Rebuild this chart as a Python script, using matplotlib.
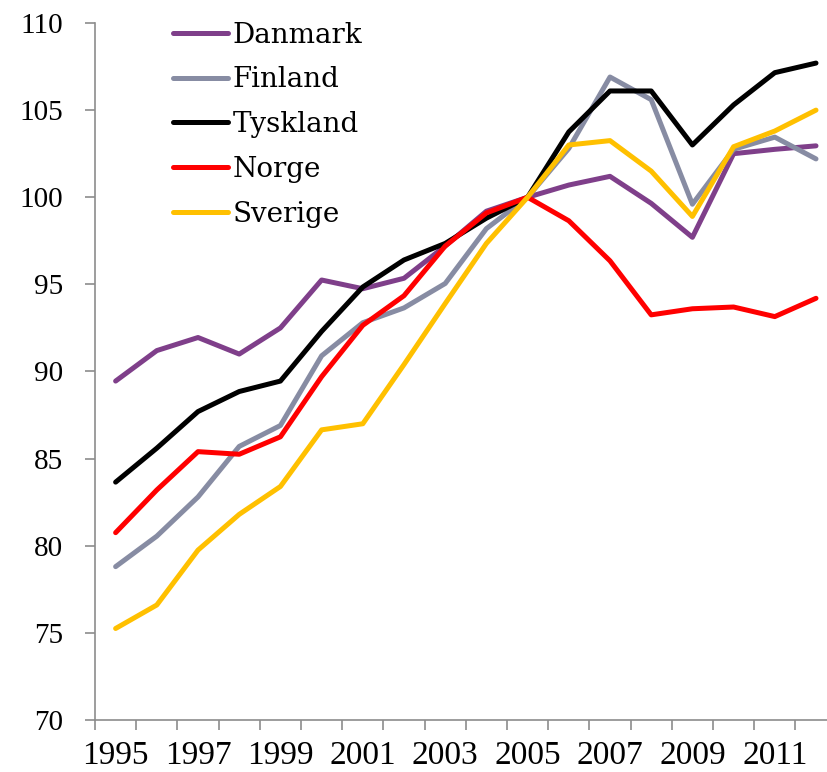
import matplotlib
matplotlib.use('Agg')
import matplotlib.pyplot as plt

years = list(range(1995, 2013))
danmark = [89.45, 91.2, 91.95, 91.0, 92.5, 95.25, 94.75, 95.35, 97.2, 99.2, 100.0,
           100.7, 101.2, 99.65, 97.7, 102.5, 102.75, 102.95]
finland = [78.8, 80.55, 82.8, 85.7, 86.9, 90.9, 92.8, 93.65, 95.05, 98.2, 100.0,
           102.8, 106.9, 105.6, 99.6, 102.75, 103.45, 102.2]
tyskland = [83.65, 85.6, 87.7, 88.85, 89.45, 92.3, 94.85, 96.4, 97.35, 98.8, 100.0,
            103.75, 106.1, 106.1, 103.0, 105.3, 107.15, 107.7]
norge = [80.75, 83.2, 85.4, 85.25, 86.25, 89.7, 92.65, 94.35, 97.2, 99.1, 100.0,
         98.65, 96.35, 93.25, 93.6, 93.7, 93.15, 94.2]
sverige = [75.25, 76.6, 79.75, 81.8, 83.4, 86.65, 87.0, 90.4, 93.9, 97.35, 100.0,
           103.0, 103.25, 101.5, 98.9, 102.9, 103.8, 105.0]

series = [("Danmark", danmark, "#7F3F8A"),
          ("Finland", finland, "#878CA3"),
          ("Tyskland", tyskland, "#000000"),
          ("Norge", norge, "#FF0000"),
          ("Sverige", sverige, "#FFC000")]

fig = plt.figure(figsize=(8.27, 7.72), dpi=100)
ax = fig.add_axes([0.1149, 0.0674, 0.8967, 0.9028])

idx = list(range(len(years)))
for name, vals, col in series:
    ax.plot(idx, vals, color=col, lw=3.6, label=name, solid_capstyle='round')

ax.set_xlim(-0.5, len(years) - 0.5)
ax.set_ylim(70, 110)
ax.set_yticks(range(70, 111, 5))
ax.set_xticks([i - 0.5 for i in range(len(years) + 1)], minor=False)
ax.set_xticklabels([])
ax.set_xticks(idx[::2], minor=True)
ax.set_xticklabels([str(y) for y in years[::2]], minor=True)

for s in ['top', 'right']:
    ax.spines[s].set_visible(False)
for s in ['left', 'bottom']:
    ax.spines[s].set_color('#8C8C8C')
    ax.spines[s].set_linewidth(1.2)

ax.tick_params(axis='y', which='major', direction='out', length=7, width=1.2,
               color='#8C8C8C', pad=16, labelsize=21)
ax.tick_params(axis='x', which='major', direction='out', length=7, width=1.2,
               color='#8C8C8C')
ax.tick_params(axis='x', which='minor', length=0, pad=15, labelsize=24)
for lab in ax.get_yticklabels() + ax.get_xticklabels(minor=True):
    lab.set_fontfamily('Liberation Serif')

leg = ax.legend(loc='upper left', bbox_to_anchor=(0.209, 0.972),
                bbox_transform=fig.transFigure, frameon=False, borderpad=0,
                borderaxespad=0, handlelength=2.0, handletextpad=0.15,
                labelspacing=0.64, prop={'family': 'DejaVu Serif', 'size': 20})

plt.savefig('out.png', dpi=100)
plt.close(fig)
